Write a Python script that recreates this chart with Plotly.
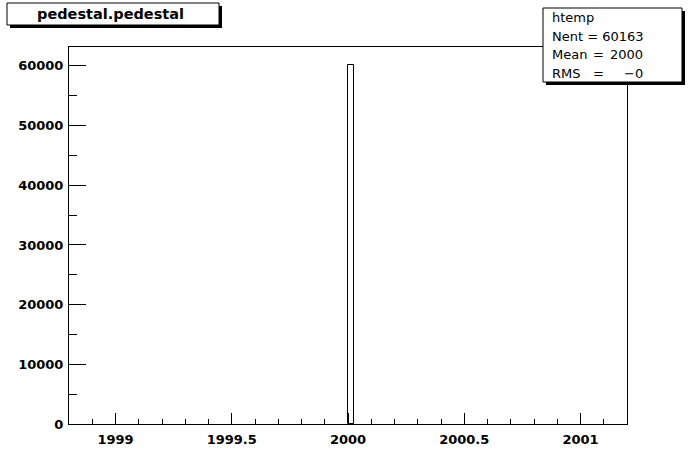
import plotly.graph_objects as go

# Data
bin_centers = [2000.012]
bin_width = 0.024
counts = [60163]
x_range = [1998.8, 2001.2]
y_max = 63171
x_tickvals = [1999, 1999.5, 2000, 2000.5, 2001]
x_ticktext = ["1999", "1999.5", "2000", "2000.5", "2001"]
title_text = "pedestal.pedestal"
stats_name = "htemp"
stats_nent = "60163"
stats_mean = "2000"
stats_rms = "\u22120"

W, H = 696, 472
L, R, T, B = 69, 627, 47, 424
pw, ph = R - L, B - T

def px(x):
    return (x - L) / pw

def py(y):
    return (B - y) / ph

fig = go.Figure()
fig.add_trace(go.Bar(
    x=bin_centers, y=counts, width=bin_width,
    marker=dict(color="white", line=dict(color="black", width=1)),
    showlegend=False, hoverinfo="skip",
))

tickfont = dict(family="DejaVu Sans", size=13, color="black", weight="bold")

fig.update_layout(
    width=W, height=H,
    margin=dict(l=L, r=W - R, t=T, b=H - B),
    paper_bgcolor="white", plot_bgcolor="white",
    bargap=0,
    xaxis=dict(
        range=x_range, tickmode="array", tickvals=x_tickvals, ticktext=x_ticktext,
        ticks="inside", ticklen=11, tickwidth=1, tickcolor="black",
        minor=dict(dtick=0.1, tick0=1999, ticks="inside", ticklen=5, tickwidth=1, tickcolor="black", showgrid=False),
        showline=True, linecolor="black", linewidth=1, mirror=True,
        showgrid=False, zeroline=False, tickfont=tickfont,
        ticklabelstandoff=3,
    ),
    yaxis=dict(
        range=[0, y_max], tick0=0, dtick=10000, tickformat="d",
        ticks="inside", ticklen=17, tickwidth=1, tickcolor="black",
        minor=dict(dtick=5000, tick0=0, ticks="inside", ticklen=8, tickwidth=1, tickcolor="black", showgrid=False),
        showline=True, linecolor="black", linewidth=1, mirror=True,
        showgrid=False, zeroline=False, tickfont=tickfont,
        ticklabelstandoff=2,
    ),
)

shapes = []
# title box with shadow
tx0, ty0, tx1, ty1 = 7, 3, 219, 25
shapes.append(dict(type="rect", xref="paper", yref="paper",
                   x0=px(tx0 + 3), x1=px(tx1 + 3), y0=py(ty0 + 3), y1=py(ty1 + 3),
                   fillcolor="black", line=dict(width=0), layer="above"))
shapes.append(dict(type="rect", xref="paper", yref="paper",
                   x0=px(tx0), x1=px(tx1), y0=py(ty0), y1=py(ty1),
                   fillcolor="white", line=dict(color="black", width=1), layer="above"))
# stats box with shadow
sx0, sy0, sx1, sy1 = 543, 8, 682, 82
shapes.append(dict(type="rect", xref="paper", yref="paper",
                   x0=px(sx0 + 3), x1=px(sx1 + 3), y0=py(sy0 + 3), y1=py(sy1 + 3),
                   fillcolor="black", line=dict(width=0), layer="above"))
shapes.append(dict(type="rect", xref="paper", yref="paper",
                   x0=px(sx0), x1=px(sx1), y0=py(sy0), y1=py(sy1),
                   fillcolor="white", line=dict(color="black", width=1), layer="above"))
fig.update_layout(shapes=shapes)

ann = []
ann.append(dict(text=title_text, xref="paper", yref="paper", x=px(110), y=py(14),
                xanchor="center", yanchor="middle", showarrow=False,
                font=dict(family="DejaVu Sans", size=14.5, color="black", weight="bold")))
sfont = dict(family="DejaVu Sans", size=13, color="black")
line_y = [17.5, 36, 54.5, 73]
ann.append(dict(text=stats_name, xref="paper", yref="paper", x=px(550), y=py(line_y[0]),
                xanchor="left", yanchor="middle", showarrow=False, font=sfont))
ann.append(dict(text="Nent = " + stats_nent, xref="paper", yref="paper", x=px(550), y=py(line_y[1]),
                xanchor="left", yanchor="middle", showarrow=False, font=sfont))
for i, (k, v) in enumerate([("Mean", stats_mean), ("RMS", stats_rms)]):
    yy = line_y[2 + i]
    ann.append(dict(text=k, xref="paper", yref="paper", x=px(550), y=py(yy),
                    xanchor="left", yanchor="middle", showarrow=False, font=sfont))
    ann.append(dict(text="=", xref="paper", yref="paper", x=px(598), y=py(yy),
                    xanchor="center", yanchor="middle", showarrow=False, font=sfont))
    ann.append(dict(text=v, xref="paper", yref="paper", x=px(645), y=py(yy),
                    xanchor="right", yanchor="middle", showarrow=False, font=sfont))
fig.update_layout(annotations=ann)

fig.write_html("out.html", config={"displayModeBar": False},
               post_script="document.body.style.margin='0';document.body.style.padding='0';")
